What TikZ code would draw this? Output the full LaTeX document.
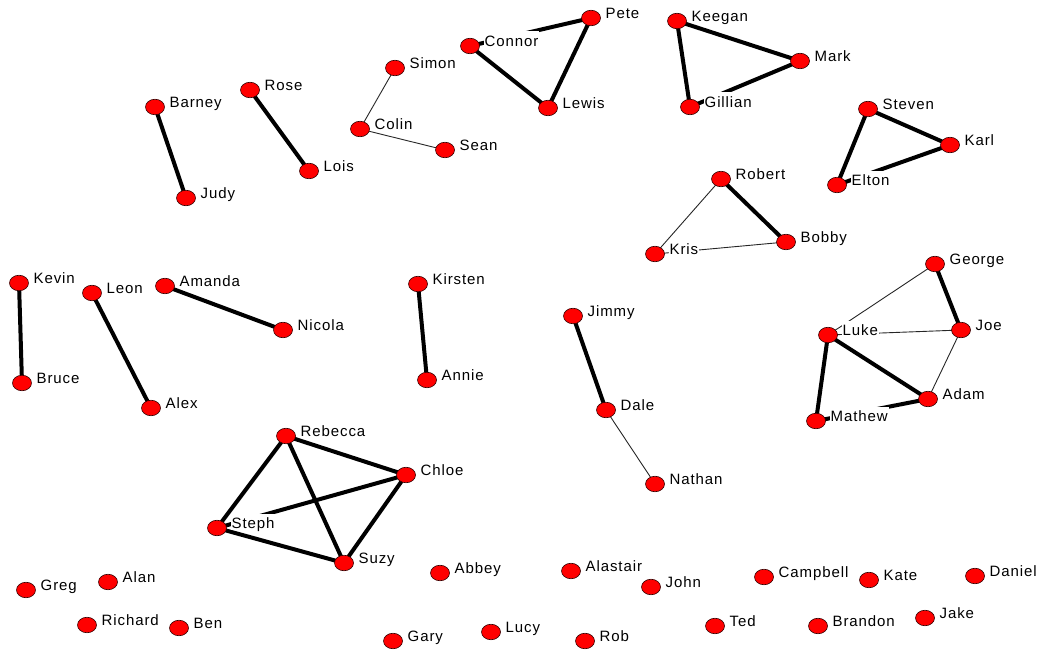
\documentclass[tikz,border=0pt]{standalone}
\usepackage{fontspec}
\setmainfont{Liberation Sans}[LetterSpace=6.0]
\usetikzlibrary{backgrounds,shapes.geometric}
\tikzset{
  dot/.style={ellipse, draw=black!80!red, line width=0.6pt, fill=red, minimum width=19pt, minimum height=15.5pt, inner sep=0pt},
  lbl/.style={fill=white, inner xsep=1pt, inner ysep=0pt, text height=15pt, text depth=1pt, anchor=base west, font=\fontsize{15pt}{17pt}\selectfont},
  thick edge/.style={line width=4pt, black},
  thin edge/.style={line width=0.9pt, black!85},
}
\newcommand{\person}[4]{%
  \node[dot] (#1) at (#2,#3) {};
  \node[lbl] (#1-l) at ([xshift=13.5pt,yshift=-0.5pt]#1.center) {#4};
}
\begin{document}
\begin{tikzpicture}[x=1pt,y=-1pt]
\useasboundingbox (0,0) rectangle (1038,650);
\person{barney}{155}{107}{Barney}
\person{judy}{186}{198}{Judy}
\person{rose}{250}{90}{Rose}
\person{lois}{309}{171}{Lois}
\person{simon}{395}{68}{Simon}
\person{colin}{360}{129}{Colin}
\person{sean}{445}{150}{Sean}
\person{connor}{470}{46}{Connor}
\person{pete}{591}{18}{Pete}
\person{lewis}{548}{108}{Lewis}
\person{keegan}{677}{21}{Keegan}
\person{mark}{800}{61}{Mark}
\person{gillian}{690}{107}{Gillian}
\person{steven}{868}{109}{Steven}
\person{karl}{950}{145}{Karl}
\person{elton}{837}{185}{Elton}
\person{robert}{721}{179}{Robert}
\person{kris}{655}{254}{Kris}
\person{bobby}{786}{242}{Bobby}
\person{george}{935}{264}{George}
\person{joe}{961}{330}{Joe}
\person{luke}{828}{335}{Luke}
\person{adam}{928}{399}{Adam}
\person{mathew}{816}{421}{Mathew}
\person{kevin}{19}{283}{Kevin}
\person{bruce}{22}{383}{Bruce}
\person{leon}{92}{293}{Leon}
\person{alex}{151}{408}{Alex}
\person{amanda}{165}{286}{Amanda}
\person{nicola}{283}{330}{Nicola}
\person{kirsten}{418}{284}{Kirsten}
\person{annie}{427}{380}{Annie}
\person{jimmy}{573}{316}{Jimmy}
\person{dale}{606}{410}{Dale}
\person{nathan}{655}{484}{Nathan}
\person{rebecca}{286}{436}{Rebecca}
\person{chloe}{406}{475}{Chloe}
\person{steph}{217}{528}{Steph}
\person{suzy}{344}{563}{Suzy}
\person{greg}{26}{590}{Greg}
\person{alan}{108}{582}{Alan}
\person{richard}{87}{625}{Richard}
\person{ben}{179}{628}{Ben}
\person{abbey}{440}{573}{Abbey}
\person{alastair}{571}{571}{Alastair}
\person{john}{651}{587}{John}
\person{campbell}{764}{577}{Campbell}
\person{kate}{869}{580}{Kate}
\person{daniel}{975}{576}{Daniel}
\person{jake}{925}{618}{Jake}
\person{ted}{715}{626}{Ted}
\person{brandon}{818}{626}{Brandon}
\person{gary}{393}{641}{Gary}
\person{lucy}{491}{632}{Lucy}
\person{rob}{585}{641}{Rob}
\begin{pgfonlayer}{background}
\draw[thick edge] (barney.center) -- (judy.center);
\draw[thick edge] (rose.center) -- (lois.center);
\draw[thin edge] (simon.center) -- (colin.center);
\draw[thin edge] (colin.center) -- (sean.center);
\draw[thick edge] (connor.center) -- (lewis.center);
\draw[thick edge] (lewis.center) -- (pete.center);
\draw[thick edge] (pete.center) -- (connor.center);
\draw[thick edge] (keegan.center) -- (mark.center);
\draw[thick edge] (keegan.center) -- (gillian.center);
\draw[thick edge] (gillian.center) -- (mark.center);
\draw[thick edge] (steven.center) -- (karl.center);
\draw[thick edge] (steven.center) -- (elton.center);
\draw[thick edge] (karl.center) -- (elton.center);
\draw[thick edge] (robert.center) -- (bobby.center);
\draw[thin edge] (robert.center) -- (kris.center);
\draw[thin edge] (kris.center) -- (bobby.center);
\draw[thick edge] (george.center) -- (joe.center);
\draw[thin edge] (george.center) -- (luke.center);
\draw[thin edge] (luke.center) -- (joe.center);
\draw[thin edge] (joe.center) -- (adam.center);
\draw[thick edge] (luke.center) -- (adam.center);
\draw[thick edge] (luke.center) -- (mathew.center);
\draw[thick edge] (adam.center) -- (mathew.center);
\draw[thick edge] (kevin.center) -- (bruce.center);
\draw[thick edge] (leon.center) -- (alex.center);
\draw[thick edge] (amanda.center) -- (nicola.center);
\draw[thick edge] (kirsten.center) -- (annie.center);
\draw[thick edge] (jimmy.center) -- (dale.center);
\draw[thin edge] (dale.center) -- (nathan.center);
\draw[thick edge] (rebecca.center) -- (chloe.center);
\draw[thick edge] (rebecca.center) -- (steph.center);
\draw[thick edge] (rebecca.center) -- (suzy.center);
\draw[thick edge] (chloe.center) -- (steph.center);
\draw[thick edge] (chloe.center) -- (suzy.center);
\draw[thick edge] (steph.center) -- (suzy.center);
\end{pgfonlayer}
\end{tikzpicture}
\end{document}
